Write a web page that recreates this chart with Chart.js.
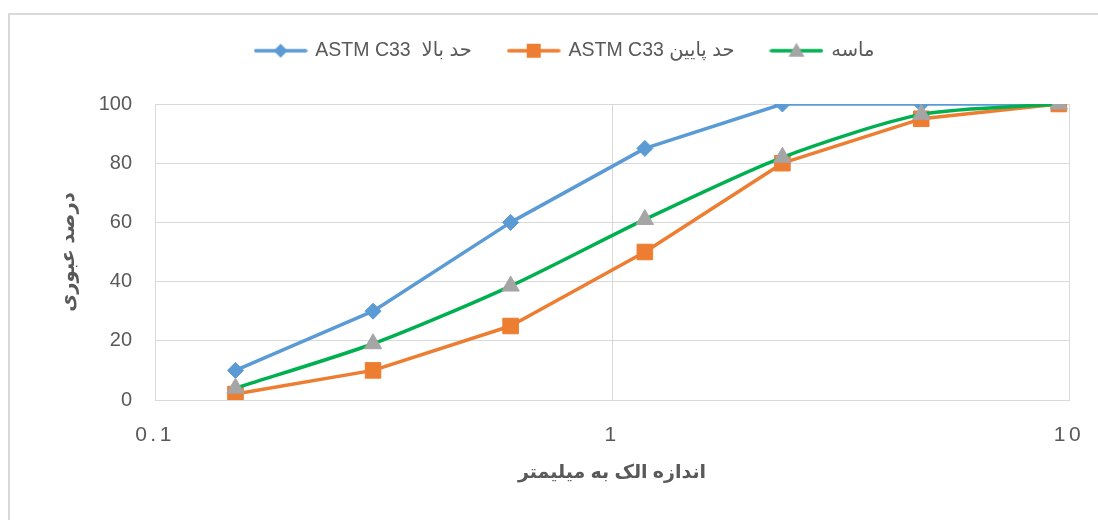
<!DOCTYPE html>
<html>
<head>
<meta charset="utf-8">
<script src="https://cdn.jsdelivr.net/npm/chart.js@4.4.0/dist/chart.umd.min.js"></script>
<style>
body { margin: 0; background: #fff; overflow: hidden; }
#wrap { position: relative; width: 1098px; height: 520px; }
#frame { position: absolute; left: 8px; top: 13px; width: 1200px; height: 600px; border-top: 2px solid #d9d9d9; border-left: 2px solid #d9d9d9; }
canvas { position: absolute; left: 0; top: 0; }
</style>
</head>
<body>
<div id="wrap">
  <div id="frame"></div>
  <canvas id="chart" width="1098" height="520"></canvas>
</div>
<script>
// sieve sizes (mm) and passing percentages
const sieveSizes = [0.15, 0.3, 0.6, 1.18, 2.36, 4.75, 9.5]
const upperLimit = [10, 30, 60, 85, 100, 100, 100]
const lowerLimit = [2, 10, 25, 50, 80, 95, 100]
const sand = [4, 19, 38.5, 61, 82, 96.5, 100]

const seriesNames = ['ASTM C33  حد بالا', 'ASTM C33 حد پایین', 'ماسه']
const xTickValues = [0.1, 1, 10]
const xTickLabels = ['0.1', '1', '10']
const xTitle = 'اندازه الک به میلیمتر'
const yTitle = 'درصد عبوری'

const FONT = '"Liberation Sans", "DejaVu Sans", sans-serif'
const TEXT = '#595959'
const GRID = '#d9d9d9'

function toPoints(values) {
    return sieveSizes.map((s, i) => ({x: s, y: values[i]}))
}

// little line + marker picture for legend entries
function legendIcon(lineColor, markerColor, shape) {
    const c = document.createElement('canvas')
    c.width = 54
    c.height = 20
    const g = c.getContext('2d')
    g.strokeStyle = lineColor
    g.lineWidth = 3.5
    g.lineCap = 'round'
    g.beginPath()
    g.moveTo(2, 10)
    g.lineTo(52, 10)
    g.stroke()
    g.fillStyle = markerColor
    g.beginPath()
    if (shape === 'diamond') {
        g.moveTo(27 - 7, 10); g.lineTo(27, 3); g.lineTo(27 + 7, 10); g.lineTo(27, 17)
    } else if (shape === 'square') {
        g.rect(20, 3, 14, 14)
    } else {
        g.moveTo(27, 2); g.lineTo(35, 16); g.lineTo(19, 16)
    }
    g.closePath()
    g.fill()
    return c
}

const icons = [
    legendIcon('#5b9bd5', '#5b9bd5', 'diamond'),
    legendIcon('#ed7d31', '#ed7d31', 'square'),
    legendIcon('#00b050', '#a5a5a5', 'triangle')
]

// fixed legend height so the plot starts where the original does,
// and spaced-out x tick digits like the excel picture
const layoutTweaks = {
    id: 'layoutTweaks',
    afterInit(chart) {
        const fit = chart.legend.fit
        chart.legend.fit = function () {
            fit.call(this)
            this.height = 100
        }
    },
    afterLayout(chart) {
        const sx = chart.scales.x
        if (sx._spaced) return
        const draw = sx.drawLabels
        sx.drawLabels = function (area) {
            const ctx = chart.ctx
            ctx.save()
            ctx.letterSpacing = '3.5px'
            draw.call(this, area)
            ctx.letterSpacing = '0px'
            ctx.restore()
            ctx.letterSpacing = '0px'
        }
        sx._spaced = true
    }
}

new Chart(document.getElementById('chart'), {
    type: 'line',
    data: {
        datasets: [
            {
                label: seriesNames[0],
                data: toPoints(upperLimit),
                borderColor: '#5b9bd5',
                backgroundColor: '#5b9bd5',
                pointStyle: 'rectRot',
                pointRadius: 8,
                pointBorderWidth: 1,
                borderWidth: 3.5,
                order: 3
            },
            {
                label: seriesNames[1],
                data: toPoints(lowerLimit),
                borderColor: '#ed7d31',
                backgroundColor: '#ed7d31',
                pointStyle: 'rect',
                pointRadius: 11,
                pointBorderWidth: 1,
                borderWidth: 3.5,
                order: 2
            },
            {
                label: seriesNames[2],
                data: toPoints(sand),
                borderColor: '#00b050',
                backgroundColor: '#a5a5a5',
                pointBorderColor: '#a5a5a5',
                pointStyle: 'triangle',
                pointRadius: 10,
                pointBorderWidth: 1,
                borderWidth: 3.5,
                tension: 0.25,
                order: 1
            }
        ]
    },
    options: {
        responsive: false,
        animation: false,
        layout: {padding: {left: 61, right: 29, top: 4, bottom: 0}},
        elements: {line: {borderJoinStyle: 'round', borderCapStyle: 'round'}},
        plugins: {
            tooltip: {enabled: false},
            legend: {
                position: 'top',
                labels: {
                    usePointStyle: true,
                    pointStyleWidth: 50,
                    padding: 37,
                    color: TEXT,
                    font: {family: FONT, size: 19.5},
                    generateLabels: chart => chart.data.datasets.map((ds, i) => ({
                        text: ds.label,
                        pointStyle: icons[i],
                        datasetIndex: i,
                        fontColor: TEXT,
                        fillStyle: 'transparent',
                        strokeStyle: 'transparent',
                        lineWidth: 0,
                        hidden: false
                    }))
                }
            }
        },
        scales: {
            x: {
                type: 'logarithmic',
                min: 0.1,
                max: 10,
                afterBuildTicks: scale => { scale.ticks = xTickValues.map(v => ({value: v})) },
                afterFit: scale => {
                    scale.height = 120
                    scale.paddingLeft = 0
                    scale.paddingRight = 0
                },
                ticks: {
                    autoSkip: false,
                    maxRotation: 0,
                    padding: 23,
                    color: TEXT,
                    font: {family: FONT, size: 21},
                    callback: value => xTickLabels[xTickValues.indexOf(value)]
                },
                grid: {color: GRID, lineWidth: 1, drawTicks: false},
                border: {color: GRID},
                title: {
                    display: true,
                    text: xTitle,
                    color: TEXT,
                    font: {family: FONT, size: 19, weight: 'bold'},
                    padding: {top: 0, bottom: 36}
                }
            },
            y: {
                min: 0,
                max: 100,
                afterFit: scale => { scale.width = 94 },
                ticks: {
                    stepSize: 20,
                    padding: 23,
                    color: TEXT,
                    font: {family: FONT, size: 20}
                },
                grid: {color: GRID, lineWidth: 1, drawTicks: false},
                border: {color: GRID},
                title: {
                    display: true,
                    text: yTitle,
                    color: TEXT,
                    font: {family: FONT, size: 19.5, weight: 'bold', lineHeight: 0.8},
                    padding: 0
                }
            }
        }
    },
    plugins: [layoutTweaks]
})
</script>
</body>
</html>
